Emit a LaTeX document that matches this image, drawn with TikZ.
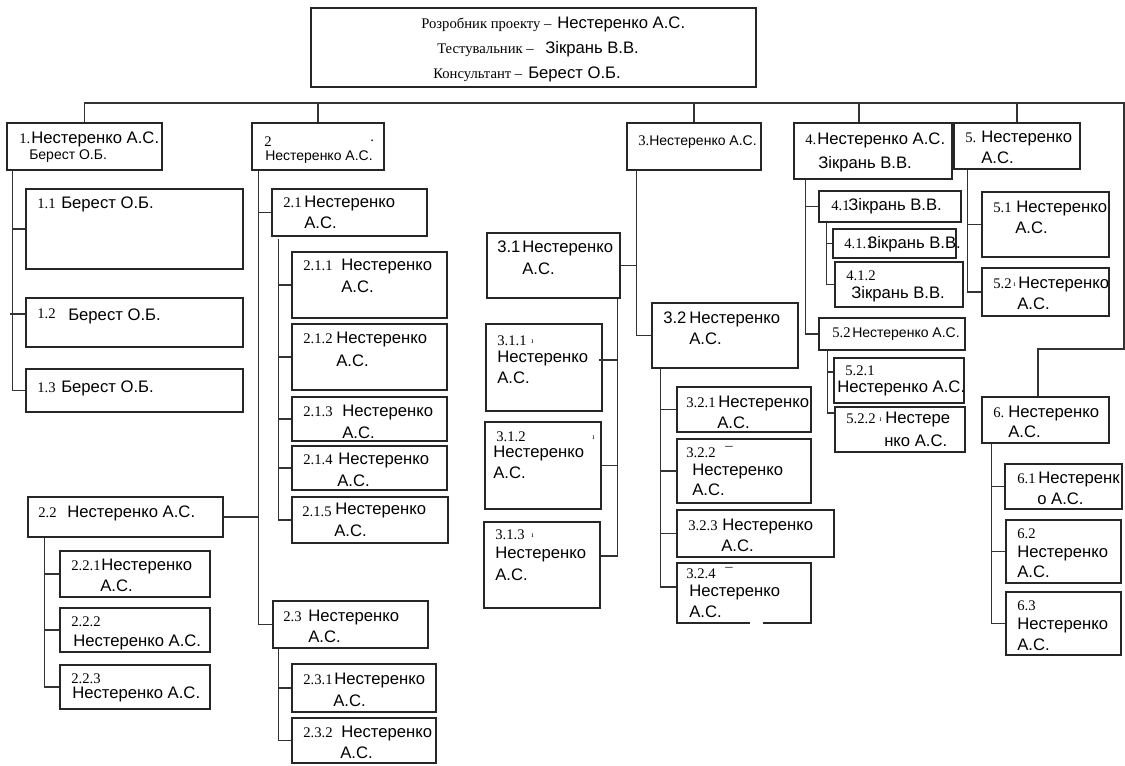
\documentclass[tikz,border=0pt]{standalone}
\usepackage{fontspec}
\setmainfont{Liberation Serif}
\newfontfamily\arialf{Liberation Sans}
\usetikzlibrary{fit}
\newcommand\wbox[5]{\node[box, fit={(#2,#3) (#4,#5)}] (#1) {};}
\begin{document}
\begin{tikzpicture}[x=0.75pt,y=-0.75pt,
  ln/.style={line width=0.9pt, draw=black!80},
  box/.style={draw=black!85, line width=0.9pt, inner sep=0pt, rectangle},
  nm/.style={inner sep=0pt, anchor=base west, font=\arialf\fontsize{12.5}{15}\selectfont},
  sm/.style={inner sep=0pt, anchor=base west, font=\arialf\fontsize{10.5}{12}\selectfont},
  num/.style={inner sep=0pt, anchor=base west, font=\fontsize{11}{12}\selectfont},
  role/.style={inner sep=0pt, anchor=base west, font=\fontsize{11}{13}\selectfont},
  mk/.style={inner sep=0pt, anchor=base west, font=\fontsize{6}{7}\selectfont}]
\useasboundingbox (0,0) rectangle (1125,765);
% ---------- boxes ----------
\wbox{top}{311}{8}{756}{87}
\wbox{b1}{7}{123}{162}{170}
\wbox{b11}{26}{189}{243}{269}
\wbox{b12}{26}{298}{243}{347}
\wbox{b13}{26}{369}{243}{412}
\wbox{b2}{252}{123}{384}{170}
\wbox{b21}{272}{189}{427}{236}
\wbox{b211}{292}{252}{447}{318}
\wbox{b212}{292}{324}{447}{390}
\wbox{b213}{292}{397}{447}{441}
\wbox{b214}{292}{446}{447}{490}
\wbox{b215}{292}{497}{448}{543}
\wbox{b22}{28}{497}{223}{537}
\wbox{b221}{60}{551}{210}{597}
\wbox{b222}{60}{608}{210}{652}
\wbox{b223}{60}{665}{210}{709}
\wbox{b23}{273}{601}{428}{648}
\wbox{b231}{292}{664}{436}{712}
\wbox{b232}{292}{718}{436}{763}
\wbox{b3}{627}{123}{761}{170}
\wbox{b31}{487}{233}{620}{298}
\wbox{b311}{486}{324}{602}{411}
\wbox{b312}{485}{422}{601}{509}
\wbox{b313}{484}{522}{600}{608}
\wbox{b32}{652}{303}{798}{368}
\wbox{b321}{677}{387}{811}{432}
\wbox{b322}{677}{439}{811}{503}
\wbox{b323}{677}{510}{834}{557}
\wbox{b324}{677}{563}{811}{623}
\wbox{b4}{794}{123}{952}{179}
\wbox{b41}{819}{191}{961}{222}
\wbox{b411}{833}{229}{956}{258}
\wbox{b412}{835}{262}{963}{307}
\wbox{b52b}{819}{318}{965}{350}
\wbox{b521}{834}{358}{964}{403}
\wbox{b522}{835}{407}{965}{452}
\wbox{b5}{954}{123}{1080}{169}
\wbox{b51}{982}{192}{1109}{257}
\wbox{b52}{982}{268}{1109}{316}
\wbox{b6}{982}{397}{1109}{443}
\wbox{b61}{1005}{464}{1122}{509}
\wbox{b62}{1006}{520}{1121}{583}
\wbox{b63}{1006}{592}{1121}{655}
\draw[white, line width=1.5pt] (750,623) -- (763,623);
% ---------- bus ----------
\coordinate (busR) at (1124,103);
\coordinate (busB) at (1124,349);
\coordinate (b4top) at ([xshift=-10.5pt]b4.north);
\coordinate (b6top) at ([xshift=-5.6pt]b6.north);
\draw[ln] (b1.north) |- (busR) -- (busB) -| (b6top);
\draw[ln] (b2.north) -- (b2.north |- busR);
\draw[ln] (b3.north) -- (b3.north |- busR);
\draw[ln] (b4top) -- (b4top |- busR);
\draw[ln] (b5.north) -- (b5.north |- busR);
% ---------- spines ----------
% 1
\coordinate (s1) at ([xshift=4.5pt]b1.south west);
\coordinate (c12) at ([yshift=6.4pt]b12.west);
\draw[ln] (s1) |- (b13.west);
\draw[ln] (s1 |- b11.west) -- (b11.west);
\draw[ln] ([xshift=-2pt]s1 |- c12) -- (c12);
% 2
\coordinate (s2) at ([xshift=5.25pt]b2.south west);
\draw[ln] (s2) |- (b23.west);
\draw[ln] (s2 |- b21.west) -- (b21.west);
\draw[ln] (s2 |- b22.east) -- (b22.east);
\coordinate (s21) at ([xshift=5.25pt,yshift=-2pt]b21.south west);
\draw[ln] (s21) |- (b215.west);
\draw[ln] (s21 |- b211.west) -- (b211.west);
\draw[ln] (s21 |- b212.west) -- (b212.west);
\draw[ln] (s21 |- b213.west) -- (b213.west);
\draw[ln] (s21 |- b214.west) -- (b214.west);
\coordinate (s22) at ([xshift=12.75pt]b22.south west);
\draw[ln] (s22) |- (b223.west);
\draw[ln] (s22 |- b221.west) -- (b221.west);
\draw[ln] (s22 |- b222.west) -- (b222.west);
\coordinate (s23) at ([xshift=4.5pt]b23.south west);
\draw[ln] (s23) |- (b232.west);
\draw[ln] (s23 |- b231.west) -- (b231.west);
% 3
\coordinate (s3) at ([xshift=7.5pt]b3.south west);
\draw[ln] (s3) |- (b32.west);
\draw[ln] (s3 |- b31.east) -- (b31.east);
\coordinate (s31) at ([xshift=-2.25pt]b31.south east);
\coordinate (c311) at ([yshift=5.6pt]b311.east);
\coordinate (c313) at ([yshift=6.75pt]b313.east);
\draw[ln] (s31) |- (c313);
\draw[ln] (s31 |- c311) -- ([xshift=-3pt]c311);
\draw[ln] (s31 |- b312.east) -- (b312.east);
\coordinate (s32) at ([xshift=6.75pt]b32.south west);
\coordinate (c324) at ([yshift=4.5pt]b324.west);
\draw[ln] (s32) |- (c324);
\draw[ln] (s32 |- b321.west) -- (b321.west);
\draw[ln] (s32 |- b322.west) -- (b322.west);
\draw[ln] (s32 |- b323.west) -- (b323.west);
% 4
\coordinate (s4) at ([xshift=9pt]b4.south west);
\draw[ln] (s4) |- (b52b.west);
\draw[ln] (s4 |- b41.west) -- (b41.west);
\coordinate (s41) at ([xshift=6pt]b41.south west);
\draw[ln] (s41) |- (b412.west);
\draw[ln] (s41 |- b411.west) -- (b411.west);
\coordinate (s52b) at ([xshift=6.75pt]b52b.south west);
\coordinate (c521) at ([yshift=6.4pt]b521.west);
\coordinate (c522) at ([yshift=12.4pt]b522.west);
\draw[ln] (s52b) |- (c522);
\draw[ln] (s52b |- c521) -- (c521);
% 5
\coordinate (s5) at ([xshift=10.5pt]b5.south west);
\draw[ln] (s5) |- (b52.west);
\draw[ln] (s5 |- b51.west) -- (b51.west);
% 6
\coordinate (s6) at ([xshift=7.5pt]b6.south west);
\draw[ln] (s6) |- (b63.west);
\draw[ln] (s6 |- b61.west) -- (b61.west);
\draw[ln] (s6 |- b62.west) -- (b62.west);
% ---------- texts ----------
\node[role] (tr1) at (421,28) {Розробник проекту –};
\node[nm] (tn1) at (557,28) {Нестеренко А.С.};
\node[role] (tr2) at (437,53) {Тестувальник –};
\node[nm] (tn2) at (545,53) {Зікрань В.В.};
\node[role] (tr3) at (433,78) {Консультант –};
\node[nm] (tn3) at (528,78) {Берест О.Б.};
% 1
\node[num] (t1n) at (19,143) {1.};
\node[nm] (t1a) at (31,143) {Нестеренко А.С.};
\node[sm] (t1b) at (29,159) {Берест О.Б.};
\node[num] (t11n) at (37,208) {1.1};
\node[nm] (t11a) at (61,208) {Берест О.Б.};
\node[num] (t12n) at (37,318) {1.2};
\node[nm] (t12a) at (68,320) {Берест О.Б.};
\node[num] (t13n) at (37,392) {1.3};
\node[nm] (t13a) at (61,392) {Берест О.Б.};
% 2
\node[num] (t2n) at (264,146) {2};
\node[num] (t2d) at (370,141) {.};
\node[sm] (t2a) at (265,160) {Нестеренко А.С.};
\node[num] (t21n) at (283,207) {2.1};
\node[nm] (t21a) at (304,207) {Нестеренко};
\node[nm] (t21b) at (304,228) {А.С.};
\node[num] (t211n) at (303,270) {2.1.1};
\node[nm] (t211a) at (341,270) {Нестеренко};
\node[nm] (t211b) at (341,292) {А.С.};
\node[num] (t212n) at (303,343) {2.1.2};
\node[nm] (t212a) at (336,343) {Нестеренко};
\node[nm] (t212b) at (336,366) {А.С.};
\node[num] (t213n) at (303,416) {2.1.3};
\node[nm] (t213a) at (342,416) {Нестеренко};
\node[nm] (t213b) at (342,438) {А.С.};
\node[num] (t214n) at (303,464) {2.1.4};
\node[nm] (t214a) at (338,464) {Нестеренко};
\node[nm] (t214b) at (337,486) {А.С.};
\node[num] (t215n) at (302,516) {2.1.5};
\node[nm] (t215a) at (335,514) {Нестеренко};
\node[nm] (t215b) at (334,536) {А.С.};
\node[num] (t22n) at (38,517) {2.2};
\node[nm] (t22a) at (67,517) {Нестеренко А.С.};
\node[num] (t221n) at (71,570) {2.2.1};
\node[nm] (t221a) at (101,570) {Нестеренко};
\node[nm] (t221b) at (100,591) {А.С.};
\node[num] (t222n) at (71,626) {2.2.2};
\node[nm] (t222a) at (73,646) {Нестеренко А.С.};
\node[num] (t223n) at (71,683) {2.2.3};
\node[nm] (t223a) at (72,698) {Нестеренко А.С.};
\node[num] (t23n) at (283,621) {2.3};
\node[nm] (t23a) at (308,621) {Нестеренко};
\node[nm] (t23b) at (308,642) {А.С.};
\node[num] (t231n) at (303,684) {2.3.1};
\node[nm] (t231a) at (334,684) {Нестеренко};
\node[nm] (t231b) at (333,706) {А.С.};
\node[num] (t232n) at (303,737) {2.3.2};
\node[nm] (t232a) at (341,737) {Нестеренко};
\node[nm] (t232b) at (340,758) {А.С.};
% 3
\node[num] (t3n) at (638,145) {3.};
\node[sm] (t3a) at (649,145) {Нестеренко А.С.};
\node[nm] (t31n) at (497,252) {3.1};
\node[nm] (t31a) at (522,252) {Нестеренко};
\node[nm] (t31b) at (522,274) {А.С.};
\node[num] (t311n) at (497,345) {3.1.1};
\node[mk] (t311m) at (531,343) {ı};
\node[nm] (t311a) at (497,362) {Нестеренко};
\node[nm] (t311b) at (497,383) {А.С.};
\node[num] (t312n) at (496,441) {3.1.2};
\node[mk] (t312m) at (592,439) {ı};
\node[nm] (t312a) at (493,457) {Нестеренко};
\node[nm] (t312b) at (493,478) {А.С.};
\node[num] (t313n) at (495,539) {3.1.3};
\node[mk] (t313m) at (531,537) {ı};
\node[nm] (t313a) at (495,558) {Нестеренко};
\node[nm] (t313b) at (495,580) {А.С.};
\node[nm] (t32n) at (663,323) {3.2};
\node[nm] (t32a) at (689,323) {Нестеренко};
\node[nm] (t32b) at (689,344) {А.С.};
\node[num] (t321n) at (686,407) {3.2.1};
\node[nm] (t321a) at (718,407) {Нестеренко};
\node[nm] (t321b) at (717,428) {А.С.};
\node[num] (t322n) at (686,457) {3.2.2};
\node[num] (t322m) at (725,457) {¯};
\node[nm] (t322a) at (692,475) {Нестеренко};
\node[nm] (t322b) at (692,495) {А.С.};
\node[num] (t323n) at (688,530) {3.2.3};
\node[nm] (t323a) at (722,530) {Нестеренко};
\node[nm] (t323b) at (721,551) {А.С.};
\node[num] (t324n) at (686,578) {3.2.4};
\node[num] (t324m) at (725,578) {¯};
\node[nm] (t324a) at (689,596) {Нестеренко};
\node[nm] (t324b) at (689,617) {А.С.};
% 4
\node[num] (t4n) at (805,144) {4.};
\node[nm] (t4a) at (817,144) {Нестеренко А.С.};
\node[nm] (t4b) at (818,168) {Зікрань В.В.};
\node[num] (t41n) at (831,210) {4.1};
\node[nm] (t41a) at (848,210) {Зікрань В.В.};
\node[num] (t411n) at (844,248) {4.1.1};
\node[nm] (t411a) at (867,248) {Зікрань В.В.};
\node[num] (t412n) at (846,280) {4.1.2};
\node[nm] (t412a) at (851,298) {Зікрань В.В.};
\node[num] (t52bn) at (832,337) {5.2};
\node[sm] (t52ba) at (852,337) {Нестеренко А.С.};
\node[num] (t521n) at (845,375) {5.2.1};
\node[nm] (t521a) at (837,392) {Нестеренко А.С.};
\node[num] (t522n) at (846,423) {5.2.2};
\node[mk] (t522m) at (879,421) {ı};
\node[nm] (t522a) at (885,423) {Нестере};
\node[nm] (t522b) at (884,446) {нко А.С.};
% 5
\node[num] (t5n) at (965,142) {5.};
\node[nm] (t5a) at (981,142) {Нестеренко};
\node[nm] (t5b) at (981,163) {А.С.};
\node[num] (t51n) at (993,212) {5.1};
\node[nm] (t51a) at (1016,212) {Нестеренко};
\node[nm] (t51b) at (1015,233) {А.С.};
\node[num] (t52n) at (993,288) {5.2};
\node[mk] (t52m) at (1013,286) {ı};
\node[nm] (t52a) at (1018,288) {Нестеренко};
\node[nm] (t52b) at (1017,309) {А.С.};
% 6
\node[num] (t6n) at (993,417) {6.};
\node[nm] (t6a) at (1008,417) {Нестеренко};
\node[nm] (t6b) at (1008,437) {А.С.};
\node[num] (t61n) at (1017,483) {6.1};
\node[nm] (t61a) at (1038,483) {Нестеренк};
\node[nm] (t61b) at (1037,504) {о А.С.};
\node[num] (t62n) at (1017,538) {6.2};
\node[nm] (t62a) at (1017,557) {Нестеренко};
\node[nm] (t62b) at (1017,577) {А.С.};
\node[num] (t63n) at (1017,610) {6.3};
\node[nm] (t63a) at (1017,629) {Нестеренко};
\node[nm] (t63b) at (1017,650) {А.С.};
\end{tikzpicture}
\end{document}
